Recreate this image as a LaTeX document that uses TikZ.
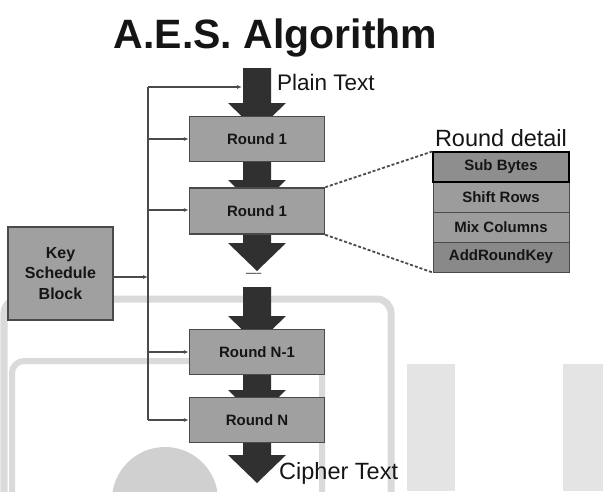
\documentclass[tikz,border=0pt]{standalone}
\usepackage{fontspec}
\setmainfont{Liberation Sans}
\usetikzlibrary{calc,arrows.meta}
\definecolor{boxfill}{HTML}{A0A0A0}
\definecolor{boxline}{HTML}{4A4A4A}
\definecolor{arrfill}{HTML}{303030}
\definecolor{txt}{HTML}{151515}
\definecolor{wmA}{HTML}{DADADA}
\definecolor{wmB}{HTML}{E4E4E4}
\definecolor{wmC}{HTML}{D0D0D0}
\definecolor{rowA}{HTML}{8E8E8E}
\definecolor{rowB}{HTML}{9C9C9C}
\definecolor{rowC}{HTML}{898989}
\newcommand\barrow[2]{%
  \fill[arrfill] ($(#1)+(-14,0)$) -- ($(#1)+(14,0)$) -- ($(#2)+(14,-28)$) -- ($(#2)+(29,-28)$)
     -- (#2) -- ($(#2)+(-29,-28)$) -- ($(#2)+(-14,-28)$) -- cycle;}
\tikzset{
  roundbox/.style={draw=boxline, line width=1.4pt, fill=boxfill, minimum width=135pt,
     minimum height=45pt, inner sep=0pt, text=txt, font=\fontsize{15}{17}\selectfont\bfseries},
  rowbox/.style={draw=boxline, line width=0.9pt, minimum width=136pt, minimum height=30pt,
     inner sep=0pt, text=txt, font=\fontsize{15}{17}\selectfont\bfseries},
  conn/.style={draw=boxline, line width=1.1pt},
  tipd/.style={-{Latex[length=5pt,width=4pt]}},
  lbl/.style={text=txt, inner sep=0pt, font=\fontsize{22.5}{26}\selectfont},
  zoomline/.style={draw=boxline, line width=1.8pt, dash pattern=on 3pt off 2pt}
}
\begin{document}
\begin{tikzpicture}[x=1pt,y=-1pt]
\useasboundingbox (0,0) rectangle (603,491);
% faint background shapes
\begin{scope}
\clip (0,0) rectangle (603,491);
\draw[wmA, line width=7pt, rounded corners=14pt] (4,540) -- (4,299) -- (391,299) -- (391,540);
\draw[wmA, line width=6pt, rounded corners=12pt] (12,540) -- (12,361) -- (322,361) -- (322,540);
\fill[wmB] (407,364) rectangle (455,491);
\fill[wmB] (563,364) rectangle (603,491);
\fill[wmC] (165,500) circle[radius=53pt];
\end{scope}
% title
\node[text=txt, anchor=base, inner sep=0pt, font=\fontsize{41}{46}\selectfont\bfseries] (title) at (275.5,48) {A.E.S. Algorithm};
% block arrows
\coordinate (a1top) at (257,68);  \coordinate (a1tip) at (257,131);
\coordinate (a2top) at (257,160); \coordinate (a2tip) at (257,208);
\coordinate (a3top) at (257,232); \coordinate (a3tip) at (257,271);
\coordinate (a4top) at (257,287); \coordinate (a4tip) at (257,344);
\coordinate (a5top) at (257,373); \coordinate (a5tip) at (257,418);
\coordinate (a6top) at (257,441); \coordinate (a6tip) at (257,483);
\barrow{a1top}{a1tip}
\barrow{a2top}{a2tip}
\barrow{a3top}{a3tip}
\barrow{a4top}{a4tip}
\barrow{a5top}{a5tip}
\barrow{a6top}{a6tip}
% round boxes
\node[roundbox] (r1) at (257,139) {Round 1};
\node[roundbox, minimum height=46pt] (r2) at (257,211) {Round 1};
\node[roundbox] (rn1) at (257,352) {Round N-1};
\node[roundbox] (rn) at (257,420) {Round N};
\node[text=boxline, inner sep=0pt, font=\fontsize{10}{10}\selectfont\bfseries] (gap) at (254,275) {-----};
% labels
\node[lbl, anchor=west] (plain) at (277,82) {Plain Text};
\node[lbl, anchor=west, font=\fontsize{23.5}{27}\selectfont] (cipher) at (279,473) {Cipher Text};
% key schedule
\node[draw=boxline, line width=1.4pt, fill=boxfill, minimum width=105pt, minimum height=93pt,
      inner sep=0pt, align=center, text=txt, font=\fontsize{16}{20.5}\selectfont\bfseries] (key) at (60.5,273.5)
      {Key\\Schedule\\Block};
% connectors
\coordinate (vtop) at (148,87);
\coordinate (vbot) at (148,420);
\coordinate (ptin) at (242,87);
\coordinate (kout) at (113,277);
\draw[conn] (vtop) -- (vbot);
\draw[conn, tipd] (vtop) -- (ptin);
\draw[conn, tipd] (r1.west -| vtop) -- (r1.west);
\draw[conn, tipd] ([yshift=1pt]r2.west -| vtop) -- ([yshift=1pt]r2.west);
\draw[conn, tipd] (rn1.west -| vtop) -- (rn1.west);
\draw[conn, tipd] (rn.west -| vtop) -- (rn.west);
\draw[conn, tipd] (kout) -- (kout -| vtop);
% round detail
\node[lbl, font=\fontsize{23.5}{27}\selectfont] (rdl) at (501,138) {Round detail};
\node[rowbox, fill=rowB] (sr) at (501,197) {Shift Rows};
\node[rowbox, fill=rowB] (mc) at (501,227) {Mix Columns};
\node[rowbox, fill=rowC] (ak) at (501,257) {AddRoundKey};
\node[rowbox, fill=rowA, draw=black, line width=1.2pt] (sb) at (501,167) {Sub Bytes};
\draw[zoomline] (r2.north east) -- (sb.north west);
\draw[zoomline] (r2.south east) -- (ak.south west);
\end{tikzpicture}
\end{document}
